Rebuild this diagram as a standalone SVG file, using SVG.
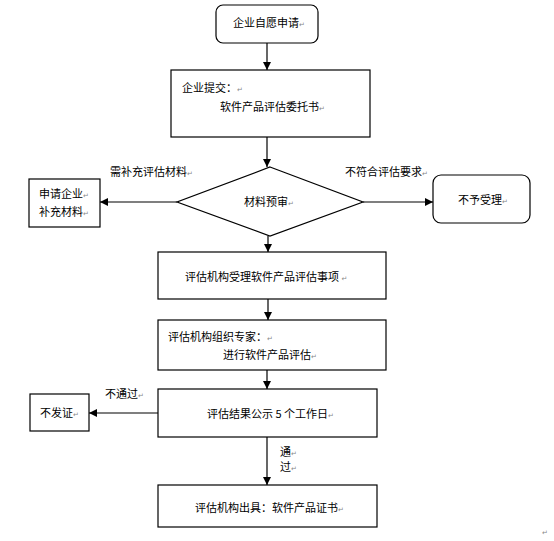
<svg xmlns="http://www.w3.org/2000/svg" width="554" height="541" viewBox="0 0 554 541">
<defs>
<marker id="ah" markerWidth="8" markerHeight="8" refX="8" refY="4" orient="auto" markerUnits="userSpaceOnUse">
<path d="M0,0 L8,4 L0,8 z" fill="#000"/>
</marker>
<style>
.b{fill:#fff;stroke:#000;stroke-width:1.2}
.t{font-family:"Noto Sans CJK SC","Liberation Sans",sans-serif;font-size:11px;fill:#000}
.r{font-family:"DejaVu Sans",sans-serif;font-size:7px;fill:#888}
.c{stroke:#000;stroke-width:1.2;fill:none}
</style>
</defs>
<rect width="554" height="541" fill="#fff"/>
<g id="connectors">
<line class="c" x1="267" y1="43" x2="267" y2="70" marker-end="url(#ah)"/>
<line class="c" x1="267" y1="137" x2="267" y2="167" marker-end="url(#ah)"/>
<line class="c" x1="177" y1="202" x2="100" y2="202" marker-end="url(#ah)"/>
<line class="c" x1="363" y1="202" x2="433" y2="202" marker-end="url(#ah)"/>
<line class="c" x1="268" y1="236" x2="268" y2="252" marker-end="url(#ah)"/>
<line class="c" x1="268" y1="299" x2="268" y2="320" marker-end="url(#ah)"/>
<line class="c" x1="267" y1="370" x2="267" y2="389" marker-end="url(#ah)"/>
<line class="c" x1="158" y1="413" x2="89" y2="413" marker-end="url(#ah)"/>
<line class="c" x1="267" y1="437" x2="267" y2="485" marker-end="url(#ah)"/>
<text class="t" x="110" y="176">需补充评估材料<tspan class="r">↵</tspan></text>
<text class="t" x="345" y="176">不符合评估要求<tspan class="r">↵</tspan></text>
<text class="t" x="105" y="398">不通过<tspan class="r">↵</tspan></text>
<text class="t" x="280" y="456">通<tspan class="r">↵</tspan></text>
<text class="t" x="280" y="471">过<tspan class="r">↵</tspan></text>
</g>
<g id="n1">
<rect class="b" x="216" y="5" width="102" height="38" rx="7"/>
<text class="t" x="233" y="27">企业自愿申请<tspan class="r">↵</tspan></text>
</g>
<g id="n2">
<rect class="b" x="171" y="70" width="199" height="67"/>
<text class="t" x="182" y="92">企业提交：<tspan class="r">↵</tspan></text>
<text class="t" x="220" y="111">软件产品评估委托书<tspan class="r">↵</tspan></text>
</g>
<g id="n3">
<polygon class="b" points="270,167 363,202 270,236 177,202"/>
<text class="t" x="244" y="206">材料预审<tspan class="r">↵</tspan></text>
</g>
<g id="n4">
<rect class="b" x="29" y="179" width="71" height="48"/>
<text class="t" x="39" y="198">申请企业<tspan class="r">↵</tspan></text>
<text class="t" x="39" y="216">补充材料<tspan class="r">↵</tspan></text>
</g>
<g id="n5">
<rect class="b" x="433" y="175" width="97" height="48" rx="8"/>
<text class="t" x="458" y="204">不予受理<tspan class="r">↵</tspan></text>
</g>
<g id="n6">
<rect class="b" x="158" y="252" width="228" height="47"/>
<text class="t" x="185" y="281">评估机构受理软件产品评估事项 <tspan class="r">↵</tspan></text>
</g>
<g id="n7">
<rect class="b" x="158" y="320" width="228" height="50"/>
<text class="t" x="168" y="341">评估机构组织专家：<tspan class="r">↵</tspan></text>
<text class="t" x="223" y="359">进行软件产品评估<tspan class="r">↵</tspan></text>
</g>
<g id="n8">
<rect class="b" x="158" y="389" width="219" height="48"/>
<text class="t" x="207" y="418">评估结果公示 5 个工作日<tspan class="r">↵</tspan></text>
</g>
<g id="n9">
<rect class="b" x="30" y="394" width="59" height="37"/>
<text class="t" x="40" y="417">不发证<tspan class="r">↵</tspan></text>
</g>
<g id="n10">
<rect class="b" x="158" y="485" width="219" height="42"/>
<text class="t" x="195" y="512">评估机构出具：软件产品证书<tspan class="r">↵</tspan></text>
</g>
<text class="r" x="542" y="535">↵</text>
</svg>
